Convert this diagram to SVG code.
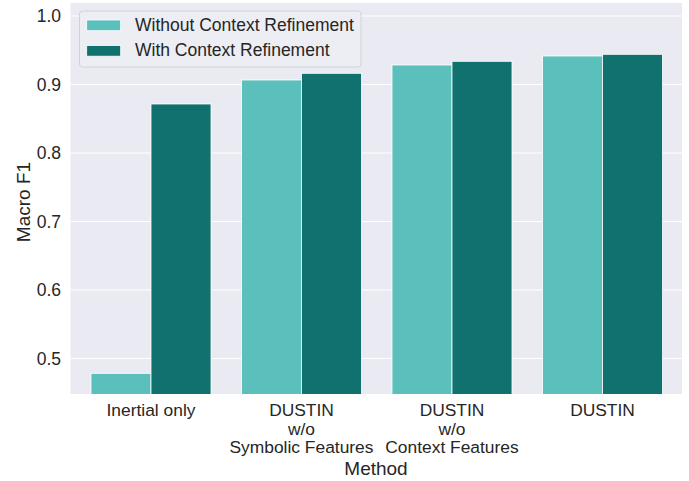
<svg xmlns="http://www.w3.org/2000/svg" width="689" height="481" viewBox="0 0 689 481">
  <style>
    text { font-family: "Liberation Sans", Arial, sans-serif; fill: #262626; }
    .tick { font-size: 17.5px; }
    .ytick { font-size: 17.5px; text-anchor: end; }
    .xtick { font-size: 17.4px; text-anchor: middle; }
    .label { font-size: 19px; text-anchor: middle; }
    .grid { stroke: #ffffff; stroke-width: 1.1; }
    .light { fill: #5bc0bb; stroke: #ffffff; stroke-width: 0.8; }
    .dark { fill: #11716f; stroke: #ffffff; stroke-width: 0.8; }
  </style>
  <defs>
    <clipPath id="axes-clip">
      <rect x="70.5" y="3" width="611.5" height="391"/>
    </clipPath>
  </defs>

  <rect width="689" height="481" fill="#ffffff"/>

  <!-- axes background and horizontal grid -->
  <g id="axes">
    <rect x="70.5" y="3" width="611.5" height="391" fill="#eaeaf2"/>
    <g id="grid">
      <line class="grid" x1="70.5" y1="16" x2="682" y2="16"/>
      <line class="grid" x1="70.5" y1="84.5" x2="682" y2="84.5"/>
      <line class="grid" x1="70.5" y1="153" x2="682" y2="153"/>
      <line class="grid" x1="70.5" y1="221.5" x2="682" y2="221.5"/>
      <line class="grid" x1="70.5" y1="290" x2="682" y2="290"/>
      <line class="grid" x1="70.5" y1="358.5" x2="682" y2="358.5"/>
    </g>
  </g>

  <!-- bars: light = without refinement, dark = with refinement -->
  <g id="bars" clip-path="url(#axes-clip)">
    <g id="inertial-only">
      <rect class="light" x="91" y="373.3" width="60" height="25"/>
      <rect class="dark" x="151" y="104" width="60" height="294"/>
    </g>
    <g id="dustin-wo-symbolic">
      <rect class="light" x="241.5" y="80" width="60" height="318"/>
      <rect class="dark" x="301.5" y="73.3" width="60" height="325"/>
    </g>
    <g id="dustin-wo-context">
      <rect class="light" x="392" y="65" width="60" height="333"/>
      <rect class="dark" x="452" y="61.3" width="60" height="337"/>
    </g>
    <g id="dustin">
      <rect class="light" x="542.5" y="56" width="60" height="342"/>
      <rect class="dark" x="602.5" y="54.3" width="60" height="344"/>
    </g>
  </g>

  <!-- y tick labels -->
  <g id="y-ticks">
    <text class="ytick" x="61" y="22.3">1.0</text>
    <text class="ytick" x="61" y="90.8">0.9</text>
    <text class="ytick" x="61" y="159.3">0.8</text>
    <text class="ytick" x="61" y="227.8">0.7</text>
    <text class="ytick" x="61" y="296.3">0.6</text>
    <text class="ytick" x="61" y="364.8">0.5</text>
  </g>

  <!-- x tick labels -->
  <g id="x-ticks">
    <text class="xtick" x="151" y="416">Inertial only</text>
    <text class="xtick" x="301.5" y="416">DUSTIN</text>
    <text class="xtick" x="301.5" y="434.7">w/o</text>
    <text class="xtick" x="301.5" y="453.3">Symbolic Features</text>
    <text class="xtick" x="452" y="416">DUSTIN</text>
    <text class="xtick" x="452" y="434.7">w/o</text>
    <text class="xtick" x="452" y="453.3">Context Features</text>
    <text class="xtick" x="602.5" y="416">DUSTIN</text>
  </g>

  <!-- axis labels -->
  <text class="label" x="376" y="475">Method</text>
  <text class="label" transform="translate(30,202) rotate(-90)" x="0" y="0">Macro F1</text>

  <!-- legend -->
  <g id="legend">
    <rect x="79.5" y="11" width="281.5" height="56" rx="3" ry="3" fill="#ededf4" stroke="#d2d2da" stroke-width="1"/>
    <rect class="light" x="86.7" y="20" width="34" height="10.7"/>
    <text class="tick" x="135" y="30.7">Without Context Refinement</text>
    <rect class="dark" x="86.7" y="45.5" width="34" height="10.7"/>
    <text class="tick" x="135" y="56">With Context Refinement</text>
  </g>
</svg>
